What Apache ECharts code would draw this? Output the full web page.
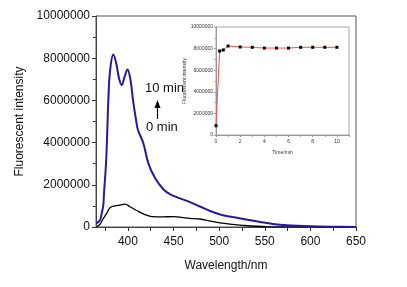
<!DOCTYPE html>
<html>
<head>
<meta charset="utf-8">
<script src="https://cdn.jsdelivr.net/npm/echarts@6/dist/echarts.min.js"></script>
<style>
  html, body { margin: 0; padding: 0; background: #fff; }
  #chart { width: 407px; height: 287px; }
</style>
</head>
<body>
<div id="chart"></div>
<script>
// spectrum after 10 min (blue) [nm, intensity]
var wave10 = [
  [365.5, 170000], [369.4, 330000], [371.3, 660000], [373, 1040000], [373.8, 1610000],
  [376, 3030000], [377.4, 4600000], [378.5, 6000000], [380.4, 7400000], [384, 8180000],
  [387, 7800000], [390.2, 7060000], [393.2, 6730000], [396.2, 7100000], [399.5, 7470000],
  [402.8, 6970000], [405.6, 6000000], [408.9, 5070000], [411, 4600000], [416.9, 3970000],
  [422.3, 3030000], [429.7, 2320000], [438.8, 1790000], [446, 1560000], [457, 1360000],
  [468, 1180000], [479, 970000], [490, 760000], [503, 570000], [515, 470000],
  [529.5, 360000], [544.8, 240000], [559, 140000], [574, 80000], [600, 30000],
  [625, 10000], [650, 5000]
]
// spectrum at 0 min (black)
var wave0 = [
  [365.8, 10000], [369.4, 130000], [372.7, 380000], [376.7, 650000], [380.4, 910000],
  [385.8, 1000000], [391.3, 1040000], [396.8, 1080000], [402.3, 960000], [409.6, 780000],
  [418.7, 590000], [426.4, 490000], [438.5, 480000], [449.4, 490000], [468, 410000],
  [479, 380000], [490, 280000], [501, 200000], [523, 90000], [552, 15000], [650, 0]
]
// inset: intensity vs time
var times = [0, 0.3, 0.6, 1, 2, 3, 4, 5, 6, 7, 8, 9, 10]
var intensity = [860000, 7780000, 7870000, 8240000, 8150000, 8120000, 8050000, 8050000, 8050000, 8120000, 8120000, 8120000, 8120000]

var xLabels = [400, 450, 500, 550, 600, 650]
var xTicks = [375, 400, 425, 450, 475, 500, 525, 550, 575, 600, 625, 650]
var timeLabels = [0, 2, 4, 6, 8, 10]

var font = 'Liberation Sans, Arial, sans-serif'
var chart = echarts.init(document.getElementById('chart'))

chart.setOption({
  animation: false,
  backgroundColor: '#fff',
  grid: [
    { left: 96, top: 16, width: 260, height: 211, show: true, borderColor: '#555', borderWidth: 1, z: 1 },
    { left: 216, top: 27, width: 133, height: 108, show: true, borderColor: '#aaa', borderWidth: 1, backgroundColor: '#fff', z: 5 }
  ],
  xAxis: [
    {
      gridIndex: 0, type: 'value', min: 365, max: 650,
      name: 'Wavelength/nm', nameLocation: 'middle', nameGap: 33,
      nameTextStyle: { fontFamily: font, fontSize: 12, color: '#111' },
      axisLine: { lineStyle: { color: '#333' } },
      axisTick: { length: 4, customValues: xTicks, lineStyle: { color: '#333' } },
      axisLabel: { customValues: xLabels, fontFamily: font, fontSize: 12, color: '#111', margin: 9 },
      splitLine: { show: false }
    },
    {
      gridIndex: 1, type: 'value', min: 0, max: 11, interval: 1,
      name: 'Time/min', nameLocation: 'middle', nameGap: 15,
      nameTextStyle: { fontFamily: font, fontSize: 5, color: '#333' },
      axisLine: { lineStyle: { color: '#999' } },
      axisTick: { length: 2, lineStyle: { color: '#999' } },
      axisLabel: { customValues: timeLabels, fontFamily: font, fontSize: 5, color: '#333', margin: 4 },
      splitLine: { show: false }, z: 6
    }
  ],
  yAxis: [
    {
      gridIndex: 0, type: 'value', min: 0, max: 10000000, interval: 2000000,
      name: 'Fluorescent intensity', nameLocation: 'middle', nameGap: 63,
      nameTextStyle: { fontFamily: font, fontSize: 12, color: '#111' },
      axisLine: { show: true, lineStyle: { color: '#333' } },
      axisTick: { show: true, length: 4, lineStyle: { color: '#333' } },
      minorTick: { show: true, splitNumber: 2, length: 3, lineStyle: { color: '#333' } },
      axisLabel: { fontFamily: font, fontSize: 12, color: '#111', margin: 6, formatter: function (v) { return String(v) } },
      splitLine: { show: false }
    },
    {
      gridIndex: 1, type: 'value', min: 0, max: 10000000, interval: 2000000,
      name: 'Fluorescent intensity', nameLocation: 'middle', nameGap: 24,
      nameTextStyle: { fontFamily: font, fontSize: 5, color: '#333' },
      axisLine: { show: true, lineStyle: { color: '#999' } },
      axisTick: { show: true, length: 2, lineStyle: { color: '#999' } },
      minorTick: { show: true, splitNumber: 2, length: 1.5, lineStyle: { color: '#999' } },
      axisLabel: { fontFamily: font, fontSize: 5, color: '#333', margin: 3, formatter: function (v) { return String(v) } },
      splitLine: { show: false }, z: 6
    }
  ],
  series: [
    {
      name: '0 min', type: 'line', xAxisIndex: 0, yAxisIndex: 0,
      data: wave0, smooth: 0.4, showSymbol: false,
      lineStyle: { color: '#000', width: 1.3 }, z: 2
    },
    {
      name: '10 min', type: 'line', xAxisIndex: 0, yAxisIndex: 0,
      data: wave10, smooth: 0.4, showSymbol: false,
      lineStyle: { color: '#2418a6', width: 2 }, z: 2
    },
    {
      name: 'time', type: 'line', xAxisIndex: 1, yAxisIndex: 1,
      data: times.map(function (t, i) { return [t, intensity[i]] }),
      symbol: 'rect', symbolSize: 3,
      itemStyle: { color: '#000' },
      lineStyle: { color: '#ff4a4a', width: 1 }, z: 7
    }
  ],
  graphic: [
    { type: 'text', left: 145, top: 82, style: { text: '10 min', font: '13px ' + font, fill: '#111' } },
    { type: 'text', left: 146, top: 121, style: { text: '0 min', font: '13px ' + font, fill: '#111' } },
    { type: 'line', shape: { x1: 157.5, y1: 119, x2: 157.5, y2: 106 }, style: { stroke: '#000', lineWidth: 1.2 } },
    { type: 'polygon', shape: { points: [[154.5, 108], [160.5, 108], [157.5, 100]] }, style: { fill: '#000' } }
  ]
})
</script>
</body>
</html>
